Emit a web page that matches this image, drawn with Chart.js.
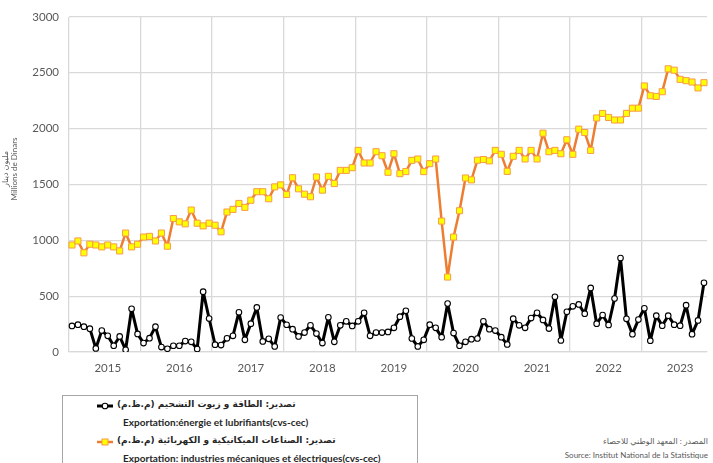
<!DOCTYPE html>
<html>
<head>
<meta charset="utf-8">
<script src="https://cdn.jsdelivr.net/npm/chart.js@4.4.0/dist/chart.umd.min.js"></script>
<style>
  body { margin: 0; background: #fff; width: 713px; height: 463px; overflow: hidden; position: relative; font-family: Lato, "DejaVu Sans", sans-serif; }
  #wrap { position: absolute; left: 0; top: 0; width: 713px; height: 385px; }
  #ytitle { position: absolute; left: -55px; top: 160px; width: 130px; transform: rotate(-90deg); transform-origin: center; text-align: center; font-size: 8px; line-height: 9px; color: #595959; }
  #legend { position: absolute; left: 62px; top: 395px; width: 356px; height: 80px; border: 1px solid #a6a6a6; box-sizing: border-box; }
  .ent { position: absolute; left: 34px; font-size: 10px; font-weight: bold; color: #262626; white-space: nowrap; }
  .ar { font-family: "DejaVu Sans", sans-serif; font-size: 9px; }
  .sw { position: absolute; left: 0; top: 2px; }
  #src { position: absolute; right: 5px; top: 434px; text-align: right; font-size: 8px; line-height: 14px; color: #595959; }
</style>
</head>
<body>
<div id="wrap"><canvas id="c"></canvas></div>
<div id="ytitle"><div dir="rtl">مليون دينار</div><div>Millions de Dinars</div></div>
<div id="legend"></div>
<div id="src"><div dir="rtl">المصدر : المعهد الوطني للاحصاء</div><div>Source: Institut National de la Statistique</div></div>
<script>
const years = ['2015', '2016', '2017', '2018', '2019', '2020', '2021', '2022', '2023'];
const yTicks = [0, 500, 1000, 1500, 2000, 2500, 3000];

// Exportation: énergie et lubrifiants (cvs-cec), millions de dinars
const energie = [
  233, 245, 227, 209, 32, 192, 145, 56, 139, 20, 387, 162,
  80, 124, 227, 44, 29, 56, 56, 98, 91, 27, 540, 300,
  66, 62, 122, 145, 356, 109, 254, 399, 95, 118, 50, 308,
  244, 204, 139, 174, 239, 165, 80, 310, 91, 239, 275, 233,
  275, 351, 145, 174, 174, 180, 216, 316, 369, 121, 50, 109,
  245, 216, 133, 434, 169, 56, 91, 115, 121, 275, 204, 192,
  133, 68, 298, 239, 216, 304, 351, 287, 210, 494, 103, 360,
  409, 426, 343, 574, 254, 331, 242, 479, 841, 297, 160, 290,
  391, 101, 325, 236, 325, 245, 236, 419, 160, 283, 620
];

// Exportation: industries mécaniques et électriques (cvs-cec)
const mecanique = [
  958, 994, 888, 965, 958, 941, 958, 941, 905, 1065, 941, 965,
  1029, 1035, 994, 1065, 947, 1195, 1165, 1147, 1271, 1153, 1129, 1153,
  1135, 1076, 1253, 1277, 1330, 1295, 1359, 1435, 1435, 1372, 1478, 1496,
  1410, 1560, 1461, 1413, 1390, 1567, 1449, 1573, 1508, 1626, 1626, 1650,
  1805, 1692, 1692, 1793, 1757, 1609, 1775, 1597, 1615, 1716, 1728, 1615,
  1686, 1728, 1172, 671, 1029, 1265, 1558, 1541, 1717, 1723, 1711, 1805,
  1770, 1617, 1752, 1805, 1728, 1805, 1728, 1959, 1793, 1805, 1775, 1900,
  1770, 1995, 1965, 1805, 2095, 2136, 2100, 2077, 2077, 2136, 2183, 2183,
  2382, 2294, 2288, 2330, 2535, 2523, 2441, 2429, 2417, 2364, 2411
];

const seriesNames = [
  ['تصدير: الطاقة و زيوت التشحيم (م.ظ.م)', 'Exportation:énergie et lubrifiants(cvs-cec)'],
  ['تصدير: الصناعات الميكانيكية و الكهربائية (م.ظ.م)', 'Exportation: industries mécaniques et électriques(cvs-cec)']
];

// une étiquette par mois
const labels = [];
years.forEach(y => { for (let m = 1; m <= 12; m++) labels.push(y + '-' + String(m).padStart(2, '0')); });
labels.length = energie.length;

const GRID = '#d9d9d9';

new Chart(document.getElementById('c'), {
  type: 'line',
  data: {
    labels,
    datasets: [
      {
        label: seriesNames[1][1],
        data: mecanique,
        borderColor: '#ED7D31',
        borderWidth: 2.5,
        borderJoinStyle: 'round',
        pointStyle: 'rect',
        pointRadius: 4.3,
        pointBackgroundColor: '#FFFF00',
        pointBorderColor: '#F79A4A',
        pointBorderWidth: 1,
        tension: 0
      },
      {
        label: seriesNames[0][1],
        data: energie,
        borderColor: '#000',
        borderWidth: 3,
        borderJoinStyle: 'round',
        pointStyle: 'circle',
        pointRadius: 2.8,
        pointBackgroundColor: '#fff',
        pointBorderColor: '#000',
        pointBorderWidth: 1.1,
        tension: 0
      }
    ]
  },
  options: {
    responsive: true, maintainAspectRatio: false, animation: false,
    layout: { padding: { top: 14, right: 5, bottom: 3, left: 0 } },
    plugins: { legend: { display: false }, tooltip: { enabled: false } },
    scales: {
      x: {
        offset: true,
        grid: {
          offset: true,
          color: (ctx) => (ctx.index % 12 === 0 ? GRID : 'rgba(0,0,0,0)'),
          lineWidth: 1.3,
          drawTicks: false
        },
        border: { color: GRID, width: 1.3 },
        ticks: {
          autoSkip: false, maxRotation: 0, padding: 9,
          color: '#595959', font: { family: 'Lato', size: 11.5 },
          callback: (v, i) => (i % 12 === 6 ? years[Math.floor(i / 12)] : '')
        },
        afterFit: (s) => { s.height = 30; }
      },
      y: {
        min: 0, max: 3000,
        afterBuildTicks: (s) => { s.ticks = yTicks.map(v => ({ value: v })); },
        grid: { color: GRID, lineWidth: 1.3, drawTicks: false },
        border: { display: false },
        ticks: {
          padding: 10, color: '#595959', font: { family: 'Lato', size: 11.5 },
          callback: (v) => String(v)
        },
        afterFit: (s) => { s.width = 69; }
      }
    }
  }
});

// légende HTML (deux lignes par série)
const leg = document.getElementById('legend');
const swatches = [
  '<svg class="sw" width="16" height="10"><line x1="0" y1="5" x2="16" y2="5" stroke="#000" stroke-width="3"/><circle cx="8" cy="5" r="2.8" fill="#fff" stroke="#000" stroke-width="1.1"/></svg>',
  '<svg class="sw" width="16" height="10"><line x1="0" y1="5" x2="16" y2="5" stroke="#ED7D31" stroke-width="2.5"/><rect x="5" y="2" width="6" height="6" fill="#FFFF00" stroke="#F79A4A" stroke-width="1"/></svg>'
];
seriesNames.forEach((n, i) => {
  const top = 3 + i * 36;
  leg.insertAdjacentHTML('beforeend',
    `<div class="ent ar" style="top:${top}px">${swatches[i]}<span dir="rtl" style="margin-left:20px">${n[0]}</span></div>` +
    `<div class="ent" style="top:${top + 17}px;left:60px">${n[1]}</div>`);
});
</script>
</body>
</html>
